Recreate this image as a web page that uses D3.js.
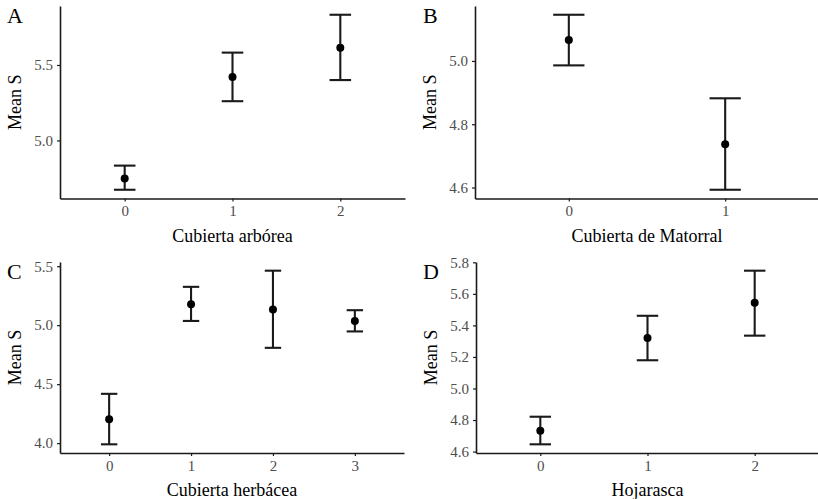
<!DOCTYPE html>
<html>
<head>
<meta charset="utf-8">
<script src="https://cdn.jsdelivr.net/npm/d3@7"></script>
<style>
  body { margin: 0; background: #fff; }
  text { font-family: "Liberation Serif", "DejaVu Serif", serif; }
</style>
</head>
<body>
<div id="chart"></div>
<script>
// Valores (media y límites de la barra de error)
const catsA = ["0", "1", "2"];
const meanA = [4.747, 5.42, 5.615];
const lowA  = [4.673, 5.26, 5.40];
const highA = [4.833, 5.582, 5.833];
const ticksA = [5.0, 5.5];

const catsB = ["0", "1"];
const meanB = [5.066, 4.737];
const lowB  = [4.986, 4.593];
const highB = [5.146, 4.882];
const ticksB = [4.6, 4.8, 5.0];

const catsC = ["0", "1", "2", "3"];
const meanC = [4.203, 5.178, 5.133, 5.036];
const lowC  = [3.99, 5.036, 4.808, 4.947];
const highC = [4.418, 5.325, 5.462, 5.127];
const ticksC = [4.0, 4.5, 5.0, 5.5];

const catsD = ["0", "1", "2"];
const meanD = [4.732, 5.32, 5.543];
const lowD  = [4.646, 5.179, 5.335];
const highD = [4.821, 5.461, 5.747];
const ticksD = [4.6, 4.8, 5.0, 5.2, 5.4, 5.6, 5.8];

const panelLabels = ["A", "B", "C", "D"];
const xTitles = ["Cubierta arbórea", "Cubierta de Matorral", "Cubierta herbácea", "Hojarasca"];
const yTitle = "Mean S";

const width = 818;
const height = 499;

// Cajas de cada panel (área de trazado)
const boxes = [
    { x0: 60,  x1: 405, y0: 6,   y1: 198.5 },
    { x0: 475, x1: 819, y0: 6,   y1: 198.5 },
    { x0: 60,  x1: 404, y0: 262, y1: 453 },
    { x0: 476, x1: 819, y0: 262, y1: 453 }
];

const panels = [
    { cats: catsA, mean: meanA, low: lowA, high: highA, ticks: ticksA },
    { cats: catsB, mean: meanB, low: lowB, high: highB, ticks: ticksB },
    { cats: catsC, mean: meanC, low: lowC, high: highC, ticks: ticksC },
    { cats: catsD, mean: meanD, low: lowD, high: highD, ticks: ticksD }
];

const svg = d3.select("#chart").append("svg")
    .attr("width", width)
    .attr("height", height);

panels.forEach((p, i) => {
    const b = boxes[i];
    const g = svg.append("g");

    // escala y con expansión del 5% como ggplot
    const lo = d3.min(p.low), hi = d3.max(p.high);
    const pad = (hi - lo) * 0.05;
    const y = d3.scaleLinear()
        .domain([lo - pad, hi + pad])
        .range([b.y1, b.y0]);

    const x = d3.scalePoint()
        .domain(p.cats)
        .range([b.x0, b.x1])
        .padding(0.6);

    const capHalf = x.step() * 0.1;
    const rows = p.cats.map((c, k) => ({ c: c, m: p.mean[k], lo: p.low[k], hi: p.high[k] }));

    // barras de error
    const eb = g.selectAll(".eb").data(rows).enter().append("g")
        .attr("stroke", "#1a1a1a")
        .attr("stroke-width", 2.1);
    eb.append("line")
        .attr("x1", d => x(d.c)).attr("x2", d => x(d.c))
        .attr("y1", d => y(d.lo)).attr("y2", d => y(d.hi));
    eb.append("line")
        .attr("x1", d => x(d.c) - capHalf).attr("x2", d => x(d.c) + capHalf)
        .attr("y1", d => y(d.hi)).attr("y2", d => y(d.hi));
    eb.append("line")
        .attr("x1", d => x(d.c) - capHalf).attr("x2", d => x(d.c) + capHalf)
        .attr("y1", d => y(d.lo)).attr("y2", d => y(d.lo));

    g.selectAll("circle").data(rows).enter().append("circle")
        .attr("cx", d => x(d.c))
        .attr("cy", d => y(d.m))
        .attr("r", 4)
        .attr("fill", "#000");

    // ejes
    const ax = g.append("g")
        .attr("transform", `translate(0,${b.y1})`)
        .call(d3.axisBottom(x).tickSize(3).tickSizeOuter(0).tickPadding(4));
    const ay = g.append("g")
        .attr("transform", `translate(${b.x0},0)`)
        .call(d3.axisLeft(y).tickValues(p.ticks).tickFormat(d3.format(".1f"))
            .tickSize(3).tickSizeOuter(0).tickPadding(4));

    [ax, ay].forEach(a => {
        a.select(".domain").attr("stroke", "#1a1a1a").attr("stroke-width", 1.6);
        a.selectAll(".tick line").attr("stroke", "#1a1a1a").attr("stroke-width", 1.2);
        a.selectAll(".tick text")
            .attr("fill", "#4d4d4d")
            .style("font-family", "Liberation Serif")
            .style("font-size", "15px");
    });

    // títulos
    g.append("text")
        .attr("x", (b.x0 + b.x1) / 2)
        .attr("y", b.y1 + 43)
        .attr("text-anchor", "middle")
        .style("font-size", "18px")
        .attr("fill", "#000")
        .text(xTitles[i]);

    g.append("text")
        .attr("transform", `translate(${b.x0 - 39},${(b.y0 + b.y1) / 2}) rotate(-90)`)
        .attr("text-anchor", "middle")
        .style("font-size", "18px")
        .attr("fill", "#000")
        .text(yTitle);

    g.append("text")
        .attr("x", i % 2 === 0 ? 7 : 423)
        .attr("y", b.y0 + 17)
        .style("font-size", "22px")
        .attr("fill", "#000")
        .text(panelLabels[i]);
});
</script>
</body>
</html>
